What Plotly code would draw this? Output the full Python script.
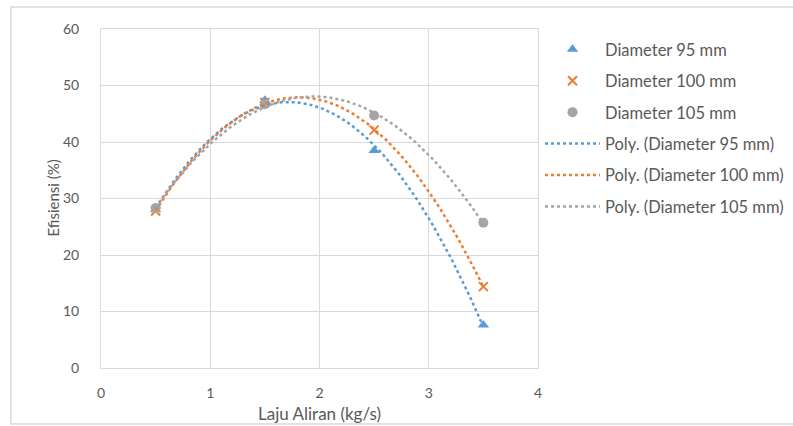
import numpy as np
import plotly.graph_objects as go

flow = [0.5, 1.5, 2.5, 3.5]
eff_95 = [28.0, 47.4, 38.5, 7.6]
eff_100 = [27.8, 47.0, 42.1, 14.4]
eff_105 = [28.3, 46.7, 44.7, 25.7]
names = ["Diameter 95 mm", "Diameter 100 mm", "Diameter 105 mm"]
colors = ["#5B9BD5", "#ED7D31", "#A5A5A5"]
symbols = ["triangle-up", "x-thin", "circle"]
series = [eff_95, eff_100, eff_105]

FONT = "Lato"
TXT = "#595959"
GRID = "#D9D9D9"

W, H = 793, 426
L, R, T, B = 101, 538, 29, 368

fig = go.Figure()
for i, (nm, c, s, ys) in enumerate(zip(names, colors, symbols, series)):
    mk = dict(color=c, size=10 if s != "x-thin" else 9, symbol=s)
    if s == "x-thin":
        mk["line"] = dict(color=c, width=2)
    fig.add_trace(go.Scatter(x=flow, y=ys, mode="markers", name=nm, marker=mk,
                             legendgroup=f"g{i}"))

xs = np.linspace(min(flow), max(flow), 120)
for i, (nm, c, ys) in enumerate(zip(names, colors, series)):
    coef = np.polyfit(flow, ys, 2)
    fig.add_trace(go.Scatter(x=xs, y=np.polyval(coef, xs), mode="lines",
                             name=f"Poly. ({nm})",
                             line=dict(color=c, width=2.5, dash="dot"),
                             legendgroup=f"h{i}"))

pw, ph = R - L, B - T
def px(x):
    return (x - L) / pw
def py(y):
    return (B - y) / ph

fig.update_layout(
    width=W, height=H,
    margin=dict(l=L, r=W - R, t=T, b=H - B, autoexpand=False),
    paper_bgcolor="white", plot_bgcolor="white",
    font=dict(family=FONT, color=TXT, size=13),
    showlegend=True,
    legend=dict(x=px(540), y=py(32), xanchor="left", yanchor="top",
                font=dict(size=16.5, color=TXT, family=FONT),
                tracegroupgap=7, itemwidth=55,
                bgcolor="rgba(0,0,0,0)"),
    xaxis=dict(range=[0, 4], dtick=1, showgrid=True, gridcolor=GRID, gridwidth=1,
               zeroline=False, showline=True, linecolor=GRID, mirror=True,
               ticks="", ticklabelstandoff=12,
               tickfont=dict(size=14, color=TXT, family=FONT)),
    yaxis=dict(range=[0, 60], dtick=10, showgrid=True, gridcolor=GRID, gridwidth=1,
               zeroline=False, showline=True, linecolor=GRID, mirror=True,
               ticks="", ticklabelstandoff=18,
               tickfont=dict(size=14, color=TXT, family=FONT)),
    annotations=[
        dict(text="Laju Aliran (kg/s)", xref="paper", yref="paper",
             x=px((L + R) / 2), y=py(413), xanchor="center", yanchor="middle",
             showarrow=False, font=dict(size=17, color=TXT, family=FONT)),
        dict(text="Efisiensi (%)", xref="paper", yref="paper",
             x=px(52), y=py((T + B) / 2), xanchor="center", yanchor="middle",
             textangle=-90, showarrow=False,
             font=dict(size=15, color=TXT, family=FONT)),
    ],
    shapes=[dict(type="rect", xref="paper", yref="paper",
                 x0=px(11), x1=px(800), y0=py(424), y1=py(7),
                 line=dict(color=GRID, width=1.5), layer="below")],
)

fig.write_html("out.html")
